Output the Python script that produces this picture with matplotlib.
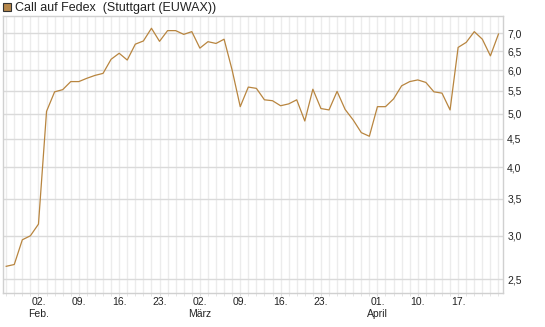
import matplotlib
matplotlib.use('Agg')
import matplotlib.pyplot as plt
from matplotlib.patches import Rectangle
from matplotlib.ticker import FixedLocator, NullLocator

# closing prices, one per trading day (27 Jan .. 24 Apr)
prices = [2.64, 2.66, 2.95, 3.00, 3.15, 5.05, 5.48, 5.53, 5.72, 5.72,
          5.80, 5.87, 5.92, 6.28, 6.44, 6.26, 6.69, 6.78, 7.15, 6.77,
          7.08, 7.08, 6.97, 7.05, 6.58, 6.76, 6.71, 6.83, 6.00, 5.15,
          5.59, 5.56, 5.30, 5.28, 5.17, 5.21, 5.30, 4.85, 5.54, 5.11,
          5.08, 5.49, 5.09, 4.87, 4.62, 4.55, 5.15, 5.15, 5.32, 5.62,
          5.72, 5.76, 5.70, 5.48, 5.45, 5.08, 6.60, 6.74, 7.05, 6.83,
          6.37, 6.98]
day_idx = list(range(len(prices)))

xtick_pos = [4, 9, 14, 19, 24, 29, 34, 39, 46, 51, 56]
xtick_lab = ['02.\nFeb.', '09.', '16.', '23.', '02.\nMärz', '09.', '16.', '23.',
             '01.\nApril', '10.', '17.']
yticks = [2.5, 3.0, 3.5, 4.0, 4.5, 5.0, 5.5, 6.0, 6.5, 7.0]

plt.rcParams['font.family'] = ['Liberation Sans', 'DejaVu Sans']
col = '#b8853f'

W, H = 545, 327
fig = plt.figure(figsize=(W / 100, H / 100), dpi=100)
ax = fig.add_axes([2.8 / W, (H - 293.3) / H, (503 - 2.8) / W, (293.3 - 16) / H])

ax.plot(day_idx, prices, color=col, lw=0.9, zorder=3)

ax.set_yscale('log')
ax.set_ylim(2.358, 7.527)
ax.set_xlim(-0.42, 61.56)

ax.yaxis.set_major_locator(FixedLocator(yticks))
ax.yaxis.set_minor_locator(NullLocator())
ax.set_yticklabels([f'{v:.1f}'.replace('.', ',') for v in yticks])
ax.yaxis.tick_right()
ax.tick_params(axis='y', length=0, pad=3, labelsize=7.5, colors='#222222')

ax.xaxis.set_major_locator(FixedLocator(xtick_pos))
ax.set_xticklabels(xtick_lab, linespacing=1.2, va='top')
ax.xaxis.set_minor_locator(FixedLocator(day_idx))
ax.tick_params(axis='x', which='both', length=2, color='#e0e0e0', pad=1,
               labelsize=7.5, labelcolor='#222222')

ax.grid(axis='x', which='both', color='#ececec', lw=1, zorder=0)
ax.grid(axis='y', which='major', color='#dadada', lw=1, zorder=1)
for s in ax.spines.values():
    s.set_color('#d0d0d0')
    s.set_linewidth(1)

# legend line at the top
fig.patches.append(Rectangle((3 / W, 1 - 11 / H), 8 / W, 8 / H, transform=fig.transFigure,
                             facecolor='#b5864a', edgecolor='#333333', lw=0.8))
fig.text(15 / W, 1 - 7.5 / H, 'Call auf Fedex  (Stuttgart (EUWAX))', fontsize=9,
         va='center', ha='left', color='#222222')

fig.savefig('out.png', dpi=100)
